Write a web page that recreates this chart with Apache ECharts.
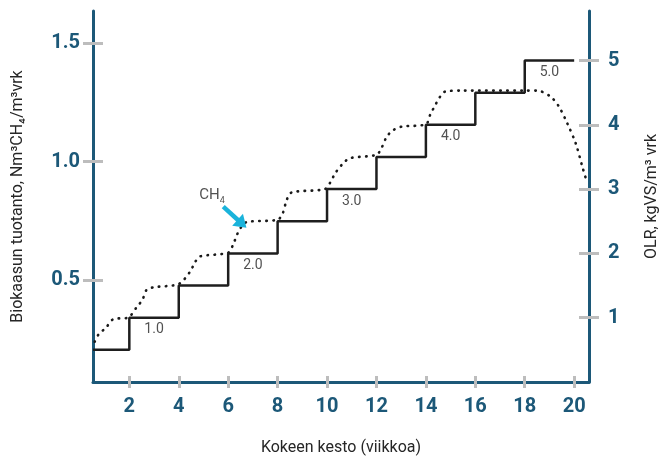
<!DOCTYPE html>
<html>
<head>
<meta charset="utf-8">
<script src="https://cdn.jsdelivr.net/npm/echarts@6/dist/echarts.min.js"></script>
<style>html,body{margin:0;padding:0;background:#fff}#c{width:662px;height:459px}</style>
</head>
<body>
<div id="c"></div>
<script>
// X axis tick labels (weeks)
const xTicks = [2, 4, 6, 8, 10, 12, 14, 16, 18, 20];
const leftTicks = [0.5, 1.0, 1.5];
const rightTicks = [1, 2, 3, 4, 5];

// OLR step line (kgVS/m3 vrk) — right axis
const olrWeeks = [0.53, 2, 4, 6, 8, 10, 12, 14, 16, 18, 20];
const olrValues = [0.5, 1.0, 1.5, 2.0, 2.5, 3.0, 3.5, 4.0, 4.5, 5.0, 5.0];

// OLR step labels
const olrLabelWeeks = [3, 7, 11, 15, 19];
const olrLabelValues = [1, 2, 3, 4, 5];
const olrLabelTexts = ['1.0', '2.0', '3.0', '4.0', '5.0'];

// CH4 production (Nm3 CH4 / m3 vrk) — left axis
const ch4Weeks = [0.6, 0.75, 1.06, 1.35, 1.95, 2.3, 2.53, 2.7, 3.0, 4.0, 4.46, 4.66, 4.86, 6.0, 6.2, 6.35, 6.5, 6.75, 8.0, 8.21, 8.37, 8.57, 9.9, 10.13, 10.33, 10.66, 10.93, 12.0, 12.2, 12.42, 12.69, 13.03, 14.0, 14.17, 14.42, 14.58, 14.78, 15.4, 18.0, 18.5, 19.04, 19.38, 19.72, 20.06, 20.33, 20.53];
const ch4Values = [0.24, 0.27, 0.30, 0.335, 0.342, 0.386, 0.417, 0.459, 0.47, 0.484, 0.536, 0.576, 0.60, 0.616, 0.65, 0.69, 0.72, 0.745, 0.755, 0.783, 0.839, 0.87, 0.884, 0.912, 0.951, 0.994, 1.015, 1.029, 1.057, 1.106, 1.134, 1.148, 1.158, 1.197, 1.247, 1.275, 1.296, 1.30, 1.30, 1.30, 1.275, 1.233, 1.162, 1.078, 0.979, 0.909];

// CH4 annotation (data coordinates)
const annotLabel = [5.35, 0.86];
const annotArrowFrom = [5.8, 0.81];
const annotArrowTo = [6.56, 0.738];

const FONT = "Roboto, 'Liberation Sans', sans-serif";
const AXIS_COLOR = '#1c5878';
const TICK_COLOR = '#bdbdbd';
const TEXT_COLOR = '#262626';

const xMin = 0.53, xMax = 20.6;
const lMin = 0.07, lMax = 1.636;
const rMin = 0, rMax = 5.77;

const chart = echarts.init(document.getElementById('c'), null, {renderer: 'canvas'});

const baseLabel = {color: AXIS_COLOR, fontFamily: FONT, fontWeight: 'bold', fontSize: 20};
const tickStyle = {color: TICK_COLOR, width: 3};

chart.setOption({
  animation: false,
  backgroundColor: '#ffffff',
  textStyle: {fontFamily: FONT},
  grid: {left: 93, right: 73, top: 11, bottom: 77, outerBoundsMode: 'none'},
  xAxis: [
    {
      type: 'value', min: xMin, max: xMax,
      name: 'Kokeen kesto (viikkoa)', nameLocation: 'middle', nameGap: 58,
      nameTextStyle: {color: TEXT_COLOR, fontFamily: FONT, fontSize: 16},
      axisLine: {show: true, lineStyle: {color: AXIS_COLOR, width: 3}},
      axisTick: {show: true, length: 6, lineStyle: tickStyle, customValues: xTicks},
      axisLabel: Object.assign({margin: 15, customValues: xTicks}, baseLabel),
      splitLine: {show: false}
    },
    {
      type: 'value', min: xMin, max: xMax, position: 'bottom',
      axisLine: {show: false},
      axisTick: {show: true, inside: true, length: 6, lineStyle: tickStyle, customValues: xTicks},
      axisLabel: {show: false},
      splitLine: {show: false}
    }
  ],
  yAxis: [
    {
      type: 'value', min: lMin, max: lMax, position: 'left',
      name: 'Biokaasun tuotanto, Nm\u00b3CH\u2084/m\u00b3vrk', nameLocation: 'middle', nameGap: 67, nameRotate: 90,
      nameTextStyle: {color: TEXT_COLOR, fontFamily: FONT, fontSize: 16},
      axisLine: {show: true, lineStyle: {color: AXIS_COLOR, width: 3}},
      axisTick: {show: true, length: 10, lineStyle: tickStyle, customValues: leftTicks},
      axisLabel: Object.assign({margin: 13, customValues: leftTicks, formatter: v => v.toFixed(1)}, baseLabel),
      splitLine: {show: false}
    },
    {
      type: 'value', min: rMin, max: rMax, position: 'right',
      name: 'OLR, kgVS/m\u00b3 vrk', nameLocation: 'middle', nameGap: 55, nameRotate: 90,
      nameTextStyle: {color: TEXT_COLOR, fontFamily: FONT, fontSize: 16},
      axisLine: {show: true, lineStyle: {color: AXIS_COLOR, width: 3}},
      axisTick: {show: true, length: 10, lineStyle: tickStyle, customValues: rightTicks},
      axisLabel: Object.assign({margin: 19, customValues: rightTicks, formatter: v => String(v)}, baseLabel),
      splitLine: {show: false}
    },
    {
      type: 'value', min: lMin, max: lMax, position: 'left',
      axisLine: {show: false},
      axisTick: {show: true, inside: true, length: 10, lineStyle: tickStyle, customValues: leftTicks},
      axisLabel: {show: false}, splitLine: {show: false}
    },
    {
      type: 'value', min: rMin, max: rMax, position: 'right',
      axisLine: {show: false},
      axisTick: {show: true, inside: true, length: 10, lineStyle: tickStyle, customValues: rightTicks},
      axisLabel: {show: false}, splitLine: {show: false}
    }
  ],
  series: [
    {
      name: 'CH4', type: 'line', xAxisIndex: 0, yAxisIndex: 0,
      data: ch4Weeks.map((w, i) => [w, ch4Values[i]]),
      smooth: 0.3, symbol: 'none', z: 3,
      lineStyle: {color: '#1a1a1a', width: 2.6, type: [0.5, 6.5], cap: 'round'}
    },
    {
      name: 'OLR', type: 'line', xAxisIndex: 0, yAxisIndex: 1,
      data: olrWeeks.map((w, i) => [w, olrValues[i]]),
      step: 'end', symbol: 'none', z: 4,
      lineStyle: {color: '#1e1e1e', width: 2.5}
    },
    {
      name: 'OLR labels', type: 'scatter', xAxisIndex: 0, yAxisIndex: 1,
      data: olrLabelWeeks.map((w, i) => ({value: [w, olrLabelValues[i]], text: olrLabelTexts[i]})),
      symbolSize: 0, silent: true,
      label: {show: true, position: 'bottom', distance: 5, color: TEXT_COLOR, fontFamily: FONT, fontSize: 14,
        formatter: p => p.data.text}
    },
    {
      name: 'CH4 annotation', type: 'scatter', xAxisIndex: 0, yAxisIndex: 0,
      data: [annotLabel], symbolSize: 0, silent: true,
      label: {show: true, position: 'inside', formatter: '{a|CH}{b|4}',
        rich: {
          a: {fontFamily: FONT, fontSize: 15, color: TEXT_COLOR, lineHeight: 20},
          b: {fontFamily: FONT, fontSize: 9, color: TEXT_COLOR, lineHeight: 9, verticalAlign: 'bottom'}
        }},
      markLine: {
        silent: true, animation: false,
        symbol: ['none', 'triangle'], symbolSize: [16, 12],
        label: {show: false},
        lineStyle: {color: '#1ab3db', width: 4.5, type: 'solid', opacity: 1},
        data: [[{coord: annotArrowFrom}, {coord: annotArrowTo}]]
      }
    }
  ]
});
</script>
</body>
</html>
